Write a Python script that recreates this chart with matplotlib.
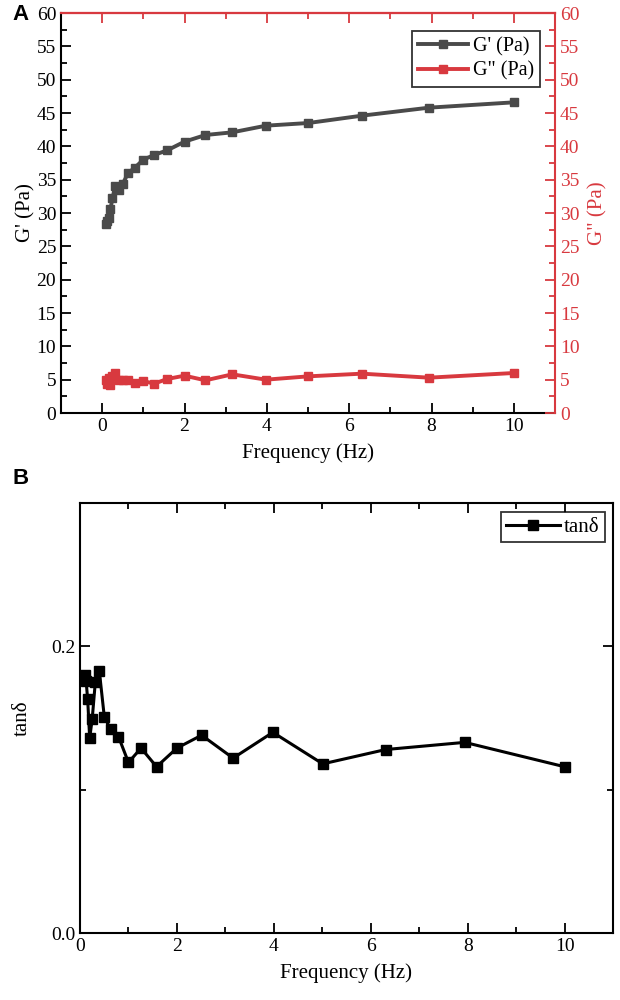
import numpy as np
import matplotlib
matplotlib.use('Agg')
import matplotlib.pyplot as plt
from matplotlib.ticker import MultipleLocator

# frequency sweep data
freq = [0.1, 0.126, 0.158, 0.2, 0.251, 0.316, 0.398, 0.501, 0.631, 0.794,
        1.0, 1.26, 1.58, 2.0, 2.51, 3.16, 3.98, 5.01, 6.31, 7.94, 10.0]
g_storage = [28.4, 28.8, 29.3, 30.6, 32.2, 34.1, 33.5, 34.4, 36.0, 36.8,
             38.0, 38.7, 39.4, 40.7, 41.7, 42.1, 43.1, 43.5, 44.6, 45.8, 46.6]
g_loss = [5.0, 4.3, 5.3, 4.2, 5.5, 6.0, 4.9, 5.0, 5.0, 4.5,
          4.8, 4.4, 5.1, 5.6, 4.9, 5.8, 5.0, 5.5, 5.9, 5.3, 6.0]
tan_delta = [0.180, 0.176, 0.163, 0.136, 0.149, 0.175, 0.183, 0.151, 0.142, 0.137,
             0.119, 0.129, 0.116, 0.129, 0.138, 0.122, 0.140, 0.118, 0.128, 0.133, 0.116]

plt.rcParams['font.family'] = ['Liberation Serif', 'DejaVu Serif']
plt.rcParams['font.size'] = 14
plt.rcParams['axes.linewidth'] = 1.5

gray = '#4a4a4a'
red = '#d8393f'

fig = plt.figure(figsize=(6.2, 10), dpi=100)

# ---- panel A
ax = fig.add_axes([61/620, 1-413/1000, 494/620, 400/1000])
ax.plot(freq, g_storage, '-s', color=gray, lw=2.8, ms=5.5, label="G' (Pa)")
ax.set_xlim(-1, 11)
ax.set_ylim(0, 60)
ax.xaxis.set_major_locator(MultipleLocator(2))
ax.xaxis.set_minor_locator(MultipleLocator(1))
ax.yaxis.set_major_locator(MultipleLocator(5))
ax.yaxis.set_minor_locator(MultipleLocator(2.5))
ax.tick_params(which='both', direction='in', width=1.3, top=False)
ax.tick_params(which='major', length=7)
ax.tick_params(which='minor', length=4)
ax.set_xlabel('Frequency (Hz)', fontsize=15, labelpad=6)
ax.set_ylabel("G' (Pa)", fontsize=15, labelpad=1)
ax.spines['top'].set_color(red)
ax.spines['right'].set_visible(False)

ax2 = ax.twinx()
ax2.plot(freq, g_loss, '-s', color=red, lw=2.8, ms=5.5, label='G" (Pa)')
ax2.set_ylim(0, 60)
ax2.yaxis.set_major_locator(MultipleLocator(5))
ax2.yaxis.set_minor_locator(MultipleLocator(2.5))
ax2.tick_params(which='both', direction='in', width=1.3, colors=red)
ax2.tick_params(which='major', length=7)
ax2.tick_params(which='minor', length=4)
ax2.spines['right'].set_color(red)
ax2.spines['top'].set_color(red)
ax2.spines['left'].set_visible(False)
ax2.spines['bottom'].set_visible(False)
ax2.set_ylabel('G" (Pa)', fontsize=15, color=red, labelpad=6)

sec = ax.secondary_xaxis('top')
sec.xaxis.set_major_locator(MultipleLocator(2))
sec.xaxis.set_minor_locator(MultipleLocator(1))
sec.tick_params(which='both', direction='in', width=1.3, colors=red, labeltop=False)
sec.tick_params(which='major', length=7)
sec.tick_params(which='minor', length=4)
sec.spines['top'].set_color(red)

h1, l1 = ax.get_legend_handles_labels()
h2, l2 = ax2.get_legend_handles_labels()
leg = ax2.legend(h1 + h2, l1 + l2, loc='upper right', bbox_to_anchor=(0.97, 0.955),
                 borderaxespad=0, fancybox=False, edgecolor='black', fontsize=14.5,
                 handlelength=2.5, borderpad=0.3, labelspacing=0.25, handletextpad=0.25)
leg.get_frame().set_linewidth(1.3)

# ---- panel B
bx = fig.add_axes([80/620, 1-933/1000, 533/620, 430/1000])
bx.plot(freq, tan_delta, '-s', color='black', lw=2.2, ms=7, label='tanδ')
bx.set_xlim(0, 11)
bx.set_ylim(0, 0.3)
bx.xaxis.set_major_locator(MultipleLocator(2))
bx.xaxis.set_minor_locator(MultipleLocator(1))
bx.yaxis.set_major_locator(MultipleLocator(0.2))
bx.yaxis.set_minor_locator(MultipleLocator(0.1))
bx.yaxis.set_major_formatter(plt.FormatStrFormatter('%.1f'))
bx.tick_params(which='both', direction='in', width=1.3, top=True, right=True)
bx.tick_params(which='major', length=7)
bx.tick_params(which='minor', length=4)
bx.set_xlabel('Frequency (Hz)', fontsize=15, labelpad=6)
bx.set_ylabel('tanδ', fontsize=15, labelpad=14)
leg2 = bx.legend(loc='upper right', bbox_to_anchor=(0.985, 0.979), borderaxespad=0,
                 fancybox=False, edgecolor='black', fontsize=15, handlelength=2.6,
                 borderpad=0.25, handletextpad=0.2)
leg2.get_frame().set_linewidth(1.3)

fig.text(12/620, 1-15/1000, 'A', fontsize=16, fontweight='bold',
         family='Liberation Sans', va='center')
fig.text(12/620, 1-478/1000, 'B', fontsize=16, fontweight='bold',
         family='Liberation Sans', va='center')

fig.savefig('out.png', dpi=100)
